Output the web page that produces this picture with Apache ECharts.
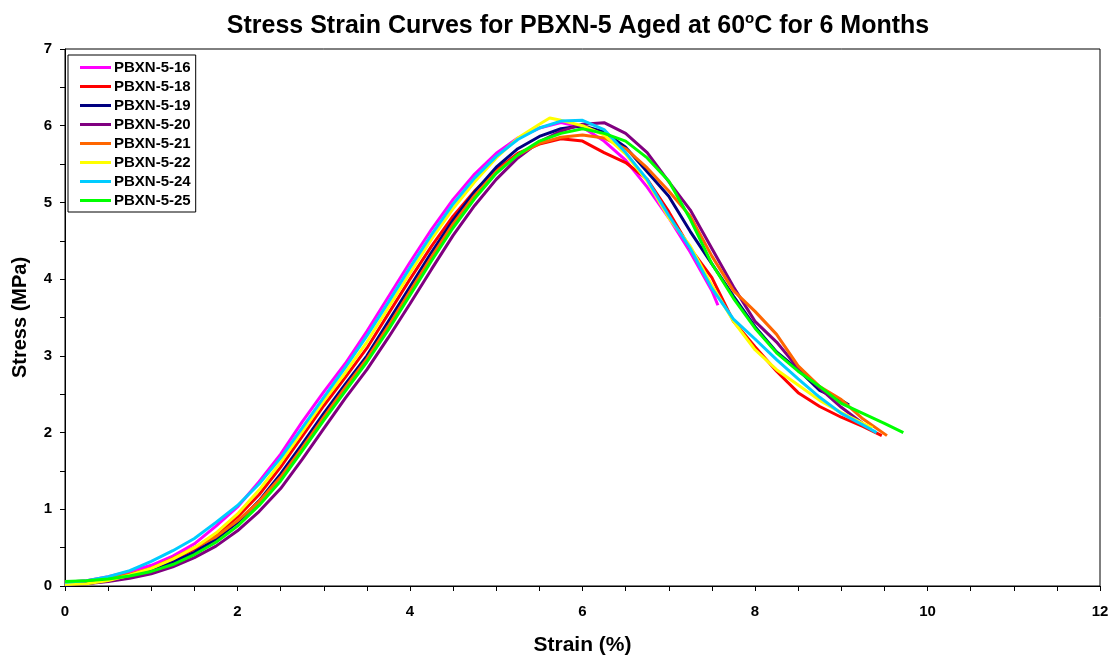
<!DOCTYPE html>
<html>
<head>
<meta charset="utf-8">
<script src="https://cdn.jsdelivr.net/npm/echarts@6/dist/echarts.min.js"></script>
<style>
  html, body { margin: 0; padding: 0; background: #fff; }
  #chart { width: 1113px; height: 655px; }
</style>
</head>
<body>
<div id="chart"></div>
<script>
// strain (%) / stress (MPa) pairs
var pbxn16 = [[0,0.04],[0.25,0.07],[0.5,0.12],[0.75,0.19],[1,0.27],[1.25,0.39],[1.5,0.55],[1.75,0.78],[2,1.03],[2.25,1.36],[2.5,1.72],[2.75,2.14],[3,2.53],[3.25,2.9],[3.5,3.32],[3.75,3.77],[4,4.22],[4.25,4.65],[4.5,5.04],[4.75,5.37],[5,5.64],[5.25,5.84],[5.5,5.97],[5.75,6.04],[6,5.98],[6.25,5.8],[6.5,5.55],[6.75,5.2],[7,4.8],[7.25,4.35],[7.5,3.85],[7.57,3.66]]
var pbxn18 = [[0,0.03],[0.25,0.05],[0.5,0.09],[0.75,0.15],[1,0.23],[1.25,0.34],[1.5,0.48],[1.75,0.66],[2,0.9],[2.25,1.19],[2.5,1.55],[2.75,1.95],[3,2.35],[3.25,2.72],[3.5,3.1],[3.75,3.55],[4,4.0],[4.25,4.43],[4.5,4.82],[4.75,5.15],[5,5.42],[5.25,5.64],[5.5,5.76],[5.75,5.83],[6,5.8],[6.25,5.65],[6.5,5.52],[6.75,5.3],[7,4.88],[7.25,4.4],[7.5,4.02],[7.75,3.45],[8,3.12],[8.25,2.8],[8.5,2.52],[8.75,2.34],[9,2.2],[9.25,2.08],[9.47,1.96]]
var pbxn19 = [[0,0.01],[0.25,0.03],[0.5,0.07],[0.75,0.13],[1,0.21],[1.25,0.31],[1.5,0.44],[1.75,0.61],[2,0.83],[2.25,1.11],[2.5,1.46],[2.75,1.85],[3,2.25],[3.25,2.63],[3.5,3.0],[3.75,3.45],[4,3.9],[4.25,4.35],[4.5,4.77],[4.75,5.14],[5,5.46],[5.25,5.7],[5.5,5.86],[5.75,5.96],[6,6.0],[6.25,5.92],[6.5,5.72],[6.75,5.4],[7,5.08],[7.25,4.62],[7.5,4.2],[7.75,3.78],[8,3.38],[8.25,3.05],[8.5,2.82],[8.75,2.55],[9,2.42],[9.09,2.36]]
var pbxn20 = [[0,0.02],[0.25,0.03],[0.5,0.06],[0.75,0.1],[1,0.16],[1.25,0.25],[1.5,0.37],[1.75,0.52],[2,0.72],[2.25,0.97],[2.5,1.27],[2.75,1.65],[3,2.05],[3.25,2.45],[3.5,2.82],[3.75,3.24],[4,3.68],[4.25,4.13],[4.5,4.57],[4.75,4.96],[5,5.3],[5.25,5.58],[5.5,5.79],[5.75,5.93],[6,6.02],[6.25,6.04],[6.5,5.9],[6.75,5.65],[7,5.27],[7.25,4.9],[7.5,4.4],[7.75,3.9],[8,3.45],[8.25,3.18],[8.5,2.84],[8.75,2.58],[9,2.33],[9.25,2.12]]
var pbxn21 = [[0,0.05],[0.25,0.07],[0.5,0.1],[0.75,0.15],[1,0.23],[1.25,0.36],[1.5,0.5],[1.75,0.64],[2,0.85],[2.25,1.1],[2.5,1.42],[2.75,1.8],[3,2.2],[3.25,2.59],[3.5,2.96],[3.75,3.39],[4,3.84],[4.25,4.29],[4.5,4.72],[4.75,5.09],[5,5.4],[5.25,5.62],[5.5,5.77],[5.75,5.85],[6,5.88],[6.25,5.84],[6.5,5.7],[6.75,5.45],[7,5.15],[7.25,4.82],[7.5,4.3],[7.75,3.85],[8,3.58],[8.25,3.28],[8.5,2.87],[8.75,2.6],[9,2.43],[9.25,2.18],[9.53,1.96]]
var pbxn22 = [[0,0.02],[0.25,0.03],[0.5,0.07],[0.75,0.14],[1,0.23],[1.25,0.35],[1.5,0.5],[1.75,0.69],[2,0.94],[2.25,1.25],[2.5,1.61],[2.75,2.01],[3,2.41],[3.25,2.78],[3.5,3.18],[3.75,3.63],[4,4.08],[4.25,4.52],[4.5,4.92],[4.75,5.27],[5,5.58],[5.25,5.84],[5.5,6.02],[5.62,6.1],[5.75,6.07],[6,6.0],[6.25,5.88],[6.5,5.63],[6.75,5.28],[7,4.8],[7.25,4.43],[7.5,3.92],[7.75,3.45],[8,3.08],[8.25,2.82],[8.5,2.62],[8.75,2.42],[9,2.26],[9.25,2.12],[9.36,2.06]]
var pbxn24 = [[0,0.05],[0.25,0.07],[0.5,0.12],[0.75,0.2],[1,0.32],[1.25,0.46],[1.5,0.62],[1.75,0.83],[2,1.05],[2.25,1.33],[2.5,1.67],[2.75,2.06],[3,2.46],[3.25,2.85],[3.5,3.26],[3.75,3.7],[4,4.15],[4.25,4.58],[4.5,4.98],[4.75,5.32],[5,5.6],[5.25,5.82],[5.5,5.97],[5.75,6.06],[6,6.07],[6.25,5.95],[6.5,5.65],[6.75,5.3],[7,4.83],[7.25,4.4],[7.5,3.88],[7.75,3.48],[8,3.22],[8.25,2.95],[8.5,2.7],[8.75,2.46],[9,2.25],[9.25,2.1],[9.41,2.0]]
var pbxn25 = [[0,0.06],[0.25,0.07],[0.5,0.09],[0.75,0.13],[1,0.19],[1.25,0.28],[1.5,0.41],[1.75,0.57],[2,0.78],[2.25,1.05],[2.5,1.37],[2.75,1.76],[3,2.16],[3.25,2.54],[3.5,2.92],[3.75,3.34],[4,3.79],[4.25,4.24],[4.5,4.67],[4.75,5.05],[5,5.38],[5.25,5.62],[5.5,5.8],[5.75,5.9],[6,5.96],[6.25,5.9],[6.5,5.8],[6.75,5.58],[7,5.28],[7.25,4.78],[7.5,4.2],[7.75,3.75],[8,3.36],[8.25,3.04],[8.5,2.8],[8.75,2.6],[9,2.38],[9.25,2.25],[9.5,2.12],[9.72,2.0]]

var names = ['PBXN-5-16', 'PBXN-5-18', 'PBXN-5-19', 'PBXN-5-20', 'PBXN-5-21', 'PBXN-5-22', 'PBXN-5-24', 'PBXN-5-25']
var colors = ['#FF00FF', '#FF0000', '#000080', '#800080', '#FF6600', '#FFFF00', '#00CCFF', '#00FF00']
var curves = [pbxn16, pbxn18, pbxn19, pbxn20, pbxn21, pbxn22, pbxn24, pbxn25]

var font = 'Liberation Sans, Arial, sans-serif'
var chart = echarts.init(document.getElementById('chart'))

chart.setOption({
  animation: false,
  backgroundColor: '#fff',
  title: {
    text: '{a|Stress Strain Curves for PBXN-5 Aged at 60}{sup|o}{a|C for 6 Months}',
    left: 573,
    top: 6,
    textAlign: 'center',
    textStyle: {
      rich: {
        a: { fontFamily: font, fontWeight: 'bold', fontSize: 25, lineHeight: 30, color: '#000' },
        sup: { fontFamily: font, fontWeight: 'bold', fontSize: 15, lineHeight: 16, color: '#000', verticalAlign: 'top' }
      }
    }
  },
  legend: {
    orient: 'vertical',
    left: 68,
    top: 55,
    padding: [5, 5, 4, 12],
    itemWidth: 31,
    itemHeight: 3,
    itemGap: 4,
    icon: 'rect',
    borderColor: '#000',
    borderWidth: 1,
    backgroundColor: '#fff',
    data: names,
    textStyle: { fontFamily: font, fontWeight: 'bold', fontSize: 15, color: '#000', lineHeight: 14, padding: [0, 0, 0, -2] }
  },
  grid: {
    left: 65,
    right: 13,
    top: 49,
    bottom: 69,
    outerBoundsMode: 'none',
    containLabel: false,
    show: true,
    borderColor: '#000',
    borderWidth: 1
  },
  xAxis: {
    type: 'value',
    min: 0,
    max: 12,
    interval: 2,
    name: 'Strain (%)',
    nameLocation: 'middle',
    nameGap: 49,
    nameTextStyle: { fontFamily: font, fontWeight: 'bold', fontSize: 21, color: '#000' },
    axisLine: { lineStyle: { color: '#000', width: 1 } },
    axisTick: { show: true, length: 5, lineStyle: { color: '#000' } },
    minorTick: { show: true, splitNumber: 4, length: 5, lineStyle: { color: '#000' } },
    splitLine: { show: false },
    axisLabel: { fontFamily: font, fontWeight: 'bold', fontSize: 15, color: '#000', margin: 18 }
  },
  yAxis: {
    type: 'value',
    min: 0,
    max: 7,
    interval: 1,
    name: 'Stress (MPa)',
    nameLocation: 'middle',
    nameGap: 35,
    nameTextStyle: { fontFamily: font, fontWeight: 'bold', fontSize: 20, color: '#000' },
    axisLine: { show: true, lineStyle: { color: '#000', width: 1 } },
    axisTick: { show: true, length: 5, lineStyle: { color: '#000' } },
    minorTick: { show: true, splitNumber: 2, length: 5, lineStyle: { color: '#000' } },
    splitLine: { show: false },
    axisLabel: { fontFamily: font, fontWeight: 'bold', fontSize: 15, color: '#000', margin: 13 }
  },
  series: curves.map(function (d, i) {
    return {
      name: names[i],
      type: 'line',
      data: d,
      showSymbol: false,
      symbol: 'none',
      color: colors[i],
      lineStyle: { color: colors[i], width: 3 }
    }
  })
})
</script>
</body>
</html>
